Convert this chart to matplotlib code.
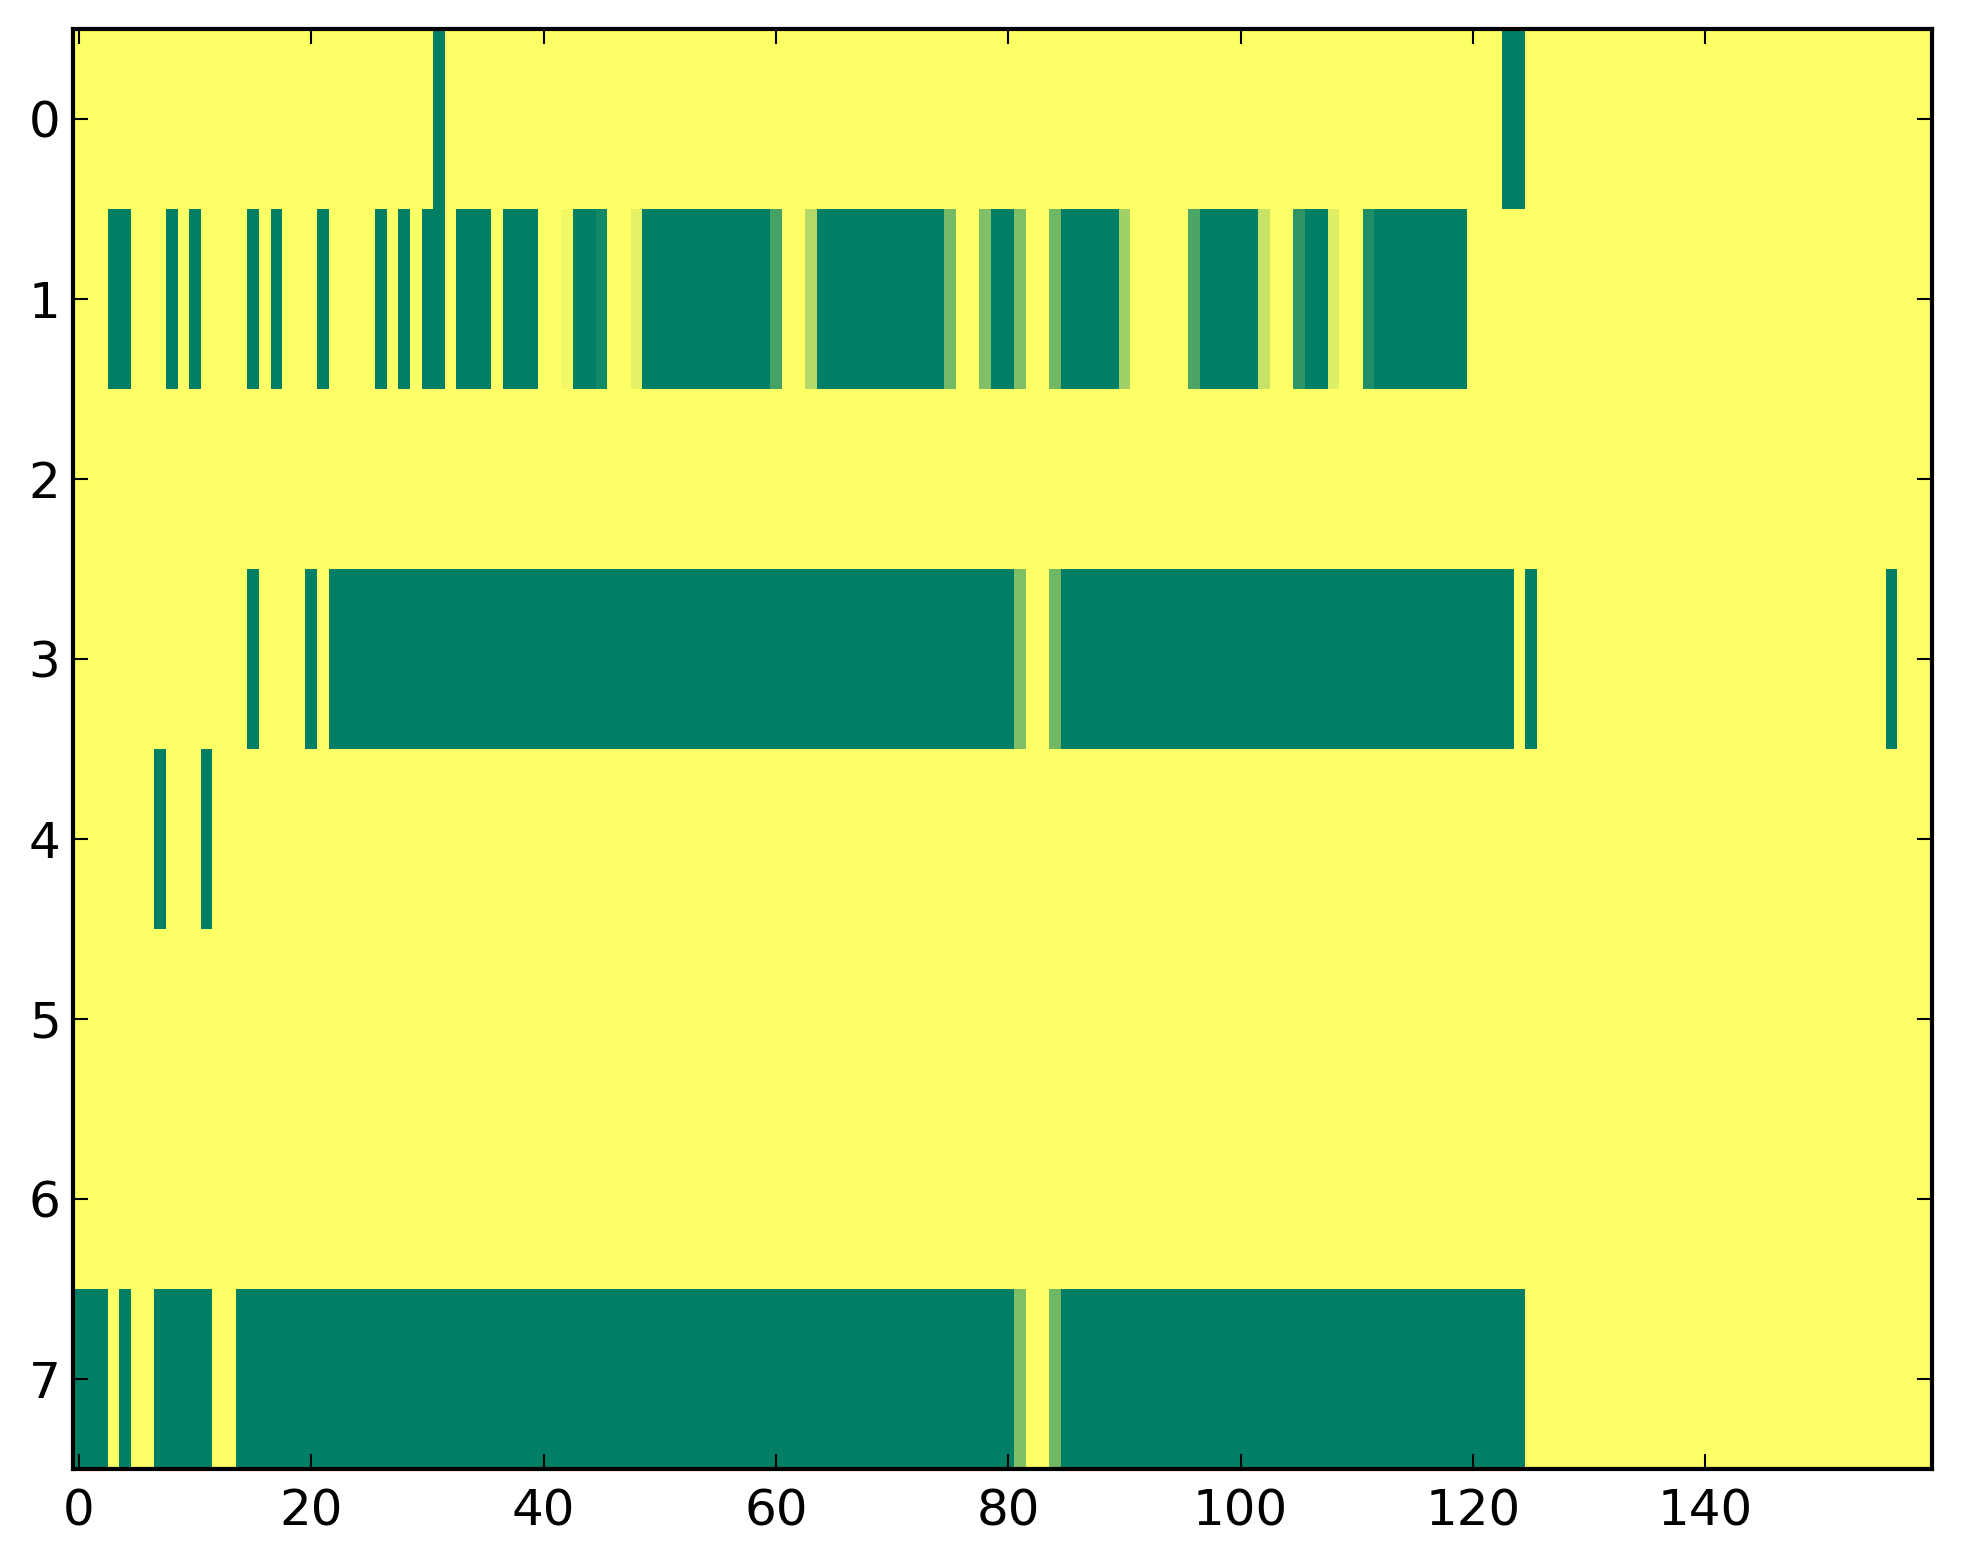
import numpy as np
import matplotlib
matplotlib.use("Agg")
import matplotlib.pyplot as plt

n_rows = 8
n_cols = 160

# zero-valued (green) runs per row: (start, end) inclusive column indices
row0_zero = [(31, 31), (123, 124)]
row1_zero = [(3, 4), (8, 8), (10, 10), (15, 15), (17, 17), (21, 21), (26, 26),
             (28, 28), (30, 31), (33, 35), (37, 39), (43, 44), (49, 59),
             (64, 74), (79, 80), (85, 89), (97, 101), (106, 107), (112, 119)]
row3_zero = [(15, 15), (20, 20), (22, 80), (85, 123), (125, 125), (156, 156)]
row4_zero = [(7, 7), (11, 11)]
row7_zero = [(0, 2), (4, 4), (7, 11), (14, 80), (85, 124)]

# partial cells: column -> value
row1_partial = {42: 0.95, 45: 0.07, 48: 0.9, 60: 0.27, 63: 0.7, 75: 0.45,
                78: 0.5, 81: 0.5, 84: 0.44, 90: 0.63, 96: 0.3, 102: 0.78,
                105: 0.18, 108: 0.87, 111: 0.12}
row3_partial = {81: 0.5, 84: 0.44}
row7_partial = {81: 0.5, 84: 0.44}

zero_runs = {0: row0_zero, 1: row1_zero, 3: row3_zero, 4: row4_zero, 7: row7_zero}
partials = {1: row1_partial, 3: row3_partial, 7: row7_partial}

data = np.ones((n_rows, n_cols))
for r, runs in zero_runs.items():
    for a, b in runs:
        data[r, a:b + 1] = 0.0
for r, d in partials.items():
    for c, v in d.items():
        data[r, c] = v

x_ticks = [0, 20, 40, 60, 80, 100, 120, 140]
y_ticks = list(range(8))

fig = plt.figure(figsize=(19.63, 15.64), dpi=100)
ax = fig.add_axes([73 / 1963, 1 - 1469 / 1564, (1932 - 73) / 1963, 1440 / 1564])
ax.imshow(data, cmap="summer", vmin=0, vmax=1, aspect="auto",
          interpolation="nearest")
ax.set_xticks(x_ticks)
ax.set_yticks(y_ticks)
ax.set_xlim(-0.5, n_cols - 0.5)
ax.set_ylim(n_rows - 0.5, -0.5)
for s in ax.spines.values():
    s.set_linewidth(3)
ax.tick_params(axis="both", direction="in", length=11, width=1.5,
               labelsize=36, top=True, right=True, colors="black")
ax.tick_params(axis="x", pad=13)
ax.tick_params(axis="y", pad=9)
fig.savefig("out.png", dpi=100)
